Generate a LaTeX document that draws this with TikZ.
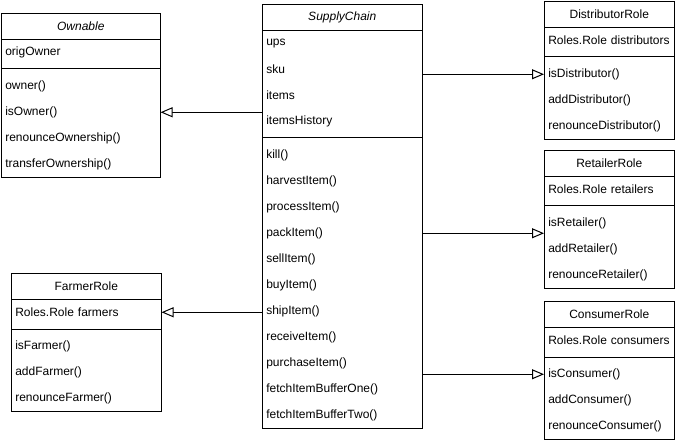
\documentclass[tikz,border=0pt]{standalone}
\usepackage{fontspec}
\setmainfont{Liberation Sans}
\usetikzlibrary{arrows.meta}
\tikzset{
  box/.style={draw, line width=0.75pt, anchor=north west, inner sep=0pt},
  hdr/.style={anchor=north west, minimum height=19.5pt, inner sep=0pt, font=\fontsize{9}{11}\selectfont},
  row/.style={anchor=north west, minimum height=19.5pt, inner ysep=0pt, inner xsep=3pt, align=left, font=\fontsize{9}{11}\selectfont},
  sep/.style={line width=0.75pt},
  inh/.style={line width=0.75pt, -{Triangle[open, length=9pt, width=7.5pt, fill=white]}},
}
\begin{document}
\begin{tikzpicture}[x=0.75pt, y=-0.75pt]
\useasboundingbox (0,0) rectangle (675,442);

% ---------- Ownable ----------
\node[box, minimum width=119.25pt, minimum height=123pt] (own) at (1,13) {};
\node[hdr, minimum width=119.25pt, font=\fontsize{9}{11}\selectfont\itshape] (own-h) at (1,13) {Ownable};
\draw[sep] (own-h.south west) -- (own-h.south east);
\node[row, text width=113.25pt] (own-a1) at (1,39) {origOwner};
\draw[sep] (own.west |- 0,69) -- (own.east |- 0,69);
\node[row, text width=113.25pt] (own-m1) at (1,73) {owner()};
\node[row, text width=113.25pt] (own-m2) at (1,99) {isOwner()};
\node[row, text width=113.25pt] (own-m3) at (1,125) {renounceOwnership()};
\node[row, text width=113.25pt] (own-m4) at (1,151) {transferOwnership()};

% ---------- SupplyChain ----------
\node[box, minimum width=120pt, minimum height=318pt] (sc) at (262,4) {};
\node[hdr, minimum width=120pt, font=\fontsize{9}{11}\selectfont\itshape] (sc-h) at (262,4) {SupplyChain};
\draw[sep] (sc-h.south west) -- (sc-h.south east);
\node[row, text width=114pt] (sc-a1) at (262,30) {ups};
\node[row, text width=114pt] (sc-a2) at (262,56) {sku};
\node[row, text width=114pt] (sc-a3) at (262,82) {items};
\node[row, text width=114pt] (sc-a4) at (262,108) {itemsHistory};
\draw[sep] (sc.west |- 0,138) -- (sc.east |- 0,138);
\node[row, text width=114pt] (sc-m1) at (262,142) {kill()};
\node[row, text width=114pt] (sc-m2) at (262,168) {harvestItem()};
\node[row, text width=114pt] (sc-m3) at (262,194) {processItem()};
\node[row, text width=114pt] (sc-m4) at (262,220) {packItem()};
\node[row, text width=114pt] (sc-m5) at (262,246) {sellItem()};
\node[row, text width=114pt] (sc-m6) at (262,272) {buyItem()};
\node[row, text width=114pt] (sc-m7) at (262,298) {shipItem()};
\node[row, text width=114pt] (sc-m8) at (262,324) {receiveItem()};
\node[row, text width=114pt] (sc-m9) at (262,350) {purchaseItem()};
\node[row, text width=114pt] (sc-m10) at (262,376) {fetchItemBufferOne()};
\node[row, text width=114pt] (sc-m11) at (262,402) {fetchItemBufferTwo()};

% ---------- DistributorRole ----------
\node[box, minimum width=97.5pt, minimum height=103.5pt] (dist) at (544,1) {};
\node[hdr, minimum width=97.5pt] (dist-h) at (544,1) {DistributorRole};
\draw[sep] (dist-h.south west) -- (dist-h.south east);
\node[row, text width=91.5pt] (dist-a1) at (544,27) {Roles.Role distributors};
\draw[sep] (dist.west |- 0,57) -- (dist.east |- 0,57);
\node[row, text width=91.5pt] (dist-m1) at (544,61) {isDistributor()};
\node[row, text width=91.5pt] (dist-m2) at (544,87) {addDistributor()};
\node[row, text width=91.5pt] (dist-m3) at (544,113) {renounceDistributor()};

% ---------- RetailerRole ----------
\node[box, minimum width=97.5pt, minimum height=103.5pt] (ret) at (544,150) {};
\node[hdr, minimum width=97.5pt] (ret-h) at (544,150) {RetailerRole};
\draw[sep] (ret-h.south west) -- (ret-h.south east);
\node[row, text width=91.5pt] (ret-a1) at (544,176) {Roles.Role retailers};
\draw[sep] (ret.west |- 0,206) -- (ret.east |- 0,206);
\node[row, text width=91.5pt] (ret-m1) at (544,210) {isRetailer()};
\node[row, text width=91.5pt] (ret-m2) at (544,236) {addRetailer()};
\node[row, text width=91.5pt] (ret-m3) at (544,262) {renounceRetailer()};

% ---------- ConsumerRole ----------
\node[box, minimum width=97.5pt, minimum height=103.5pt] (con) at (544,301) {};
\node[hdr, minimum width=97.5pt] (con-h) at (544,301) {ConsumerRole};
\draw[sep] (con-h.south west) -- (con-h.south east);
\node[row, text width=91.5pt] (con-a1) at (544,327) {Roles.Role consumers};
\draw[sep] (con.west |- 0,357) -- (con.east |- 0,357);
\node[row, text width=91.5pt] (con-m1) at (544,361) {isConsumer()};
\node[row, text width=91.5pt] (con-m2) at (544,387) {addConsumer()};
\node[row, text width=91.5pt] (con-m3) at (544,413) {renounceConsumer()};

% ---------- FarmerRole ----------
\node[box, minimum width=112.5pt, minimum height=103.5pt] (far) at (11,273) {};
\node[hdr, minimum width=112.5pt] (far-h) at (11,273) {FarmerRole};
\draw[sep] (far-h.south west) -- (far-h.south east);
\node[row, text width=106.5pt] (far-a1) at (11,299) {Roles.Role farmers};
\draw[sep] (far.west |- 0,329) -- (far.east |- 0,329);
\node[row, text width=106.5pt] (far-m1) at (11,333) {isFarmer()};
\node[row, text width=106.5pt] (far-m2) at (11,359) {addFarmer()};
\node[row, text width=106.5pt] (far-m3) at (11,385) {renounceFarmer()};

% ---------- connectors ----------
\draw[inh] (sc.west |- own-m2) -- (own-m2.east);
\draw[inh] (sc.east |- dist-m1) -- (dist-m1.west);
\draw[inh] (sc-m4.east) -- (ret.west |- sc-m4);
\draw[inh] (sc.east |- con-m1) -- (con-m1.west);
\draw[inh] (sc.west |- far-a1) -- (far-a1.east);
\end{tikzpicture}
\end{document}
